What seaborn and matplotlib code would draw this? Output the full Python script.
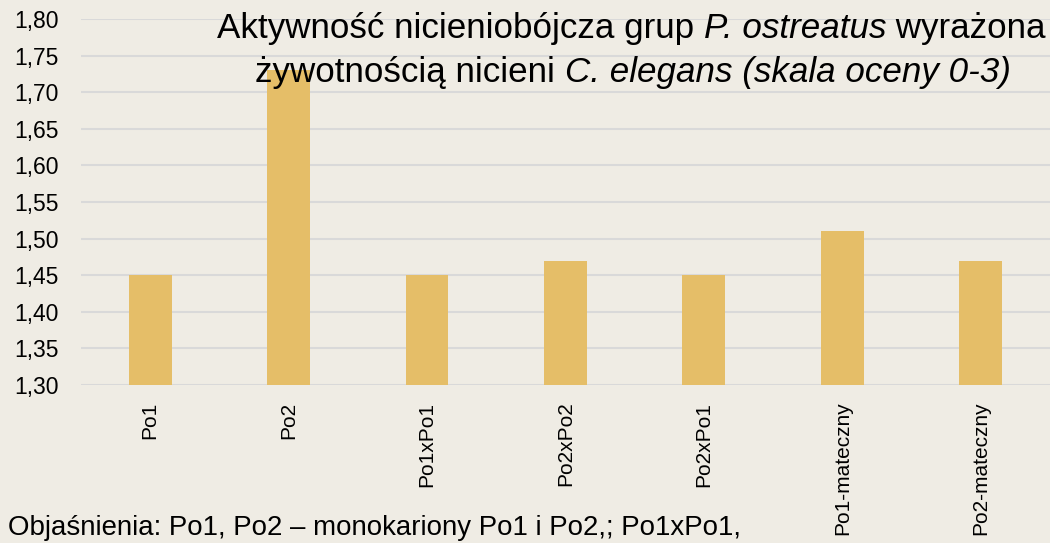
import matplotlib
matplotlib.use('Agg')
import matplotlib.pyplot as plt
import seaborn as sns
import pandas as pd

# data
categories = ['Po1', 'Po2', 'Po1xPo1', 'Po2xPo2', 'Po2xPo1', 'Po1-mateczny', 'Po2-mateczny']
values = [1.45, 1.73, 1.45, 1.47, 1.45, 1.51, 1.47]
yticks = [1.30, 1.35, 1.40, 1.45, 1.50, 1.55, 1.60, 1.65, 1.70, 1.75, 1.80]

bg = '#EFECE4'
bar_color = '#E5BE68'

sns.set_style('white')
plt.rcParams['font.family'] = ['Liberation Sans', 'DejaVu Sans']
plt.rcParams['text.color'] = 'black'

df = pd.DataFrame({'grupa': categories, 'wartosc': values})

fig = plt.figure(figsize=(10.5, 5.43), dpi=100, facecolor=bg)
ax = fig.add_axes([0.077, 0.291, 0.923, 0.674])
ax.set_facecolor(bg)

sns.barplot(data=df, x='grupa', y='wartosc', color=bar_color, width=0.31,
            saturation=1, ax=ax, zorder=3, edgecolor='none', linewidth=0)

ax.set_ylim(1.30, 1.80)
ax.set_yticks(yticks)
ax.set_yticklabels([f'{t:.2f}'.replace('.', ',') for t in yticks], fontsize=16.5, color='black')
ax.set_xlim(-0.5, 6.5)
ax.yaxis.grid(True, color='#D9D9D9', linewidth=1.5, zorder=0)
ax.set_axisbelow(True)
for s in ax.spines.values():
    s.set_visible(False)
ax.tick_params(axis='both', length=0)
ax.tick_params(axis='y', pad=16)
ax.tick_params(axis='x', pad=12)
ax.set_xticklabels(categories, rotation=90, fontsize=15, va='top', color='black')
ax.set_xlabel('')
ax.set_ylabel('')

renderer = fig.canvas.get_renderer()

def draw_parts(parts, x0, yb, size):
    x = x0
    for s, st in parts:
        t = fig.text(x / 1050, 1 - yb / 543, s, fontsize=size, style=st,
                     va='baseline', ha='left', color='black')
        x += t.get_window_extent(renderer=renderer).width
    return x - x0

def fit_size(parts, width):
    # measure at 20pt, then scale the size to the wanted pixel width
    tmp = [fig.text(0, 0, s, fontsize=20, style=st) for s, st in parts]
    w = sum(t.get_window_extent(renderer=renderer).width for t in tmp)
    for t in tmp:
        t.remove()
    return 20 * width / w

line1 = [('Aktywność nicieniobójcza grup ', 'normal'), ('P. ostreatus', 'italic'), (' wyrażona', 'normal')]
line2 = [('żywotnością nicieni ', 'normal'), ('C. elegans (skala oceny 0-3)', 'italic')]
note = [('Objaśnienia: Po1, Po2 – monokariony Po1 i Po2,; Po1xPo1,', 'normal')]

size1 = fit_size(line1, 828)
draw_parts(line1, 217, 38, size1)
draw_parts(line2, 255, 82, size1)
draw_parts(note, 8, 535, fit_size(note, 735))

fig.savefig('out.png', dpi=100, facecolor=bg)
